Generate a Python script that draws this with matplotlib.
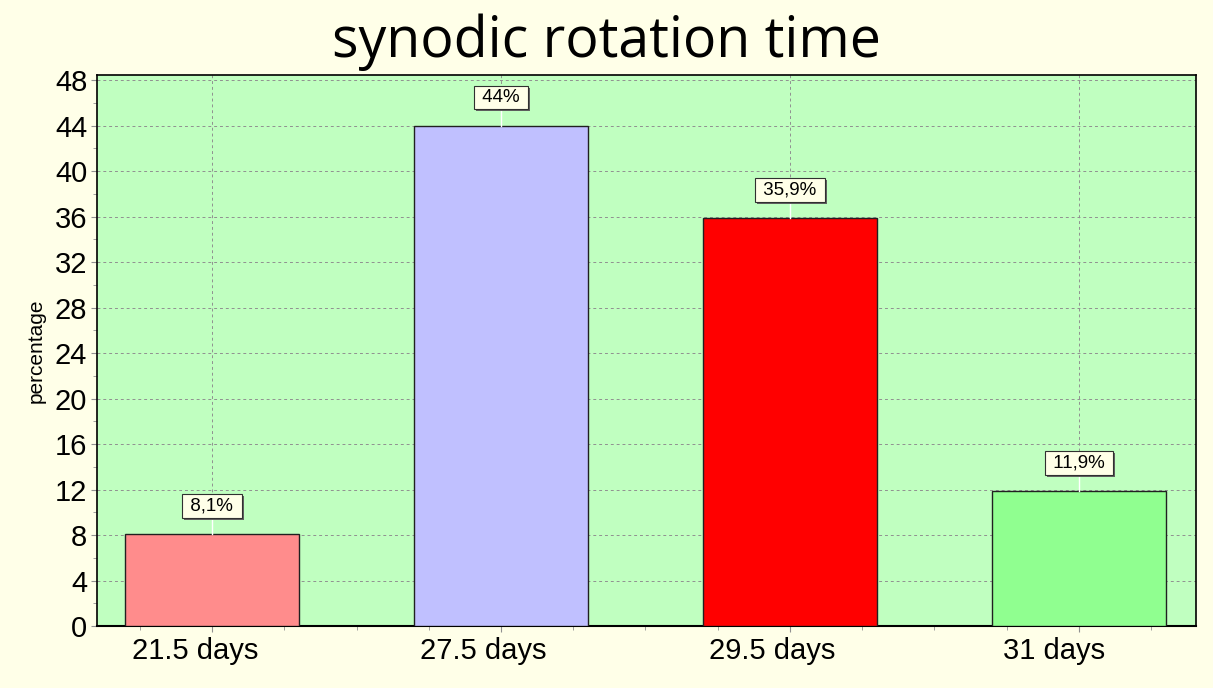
import numpy as np
import matplotlib
matplotlib.use("Agg")
import matplotlib.pyplot as plt
from matplotlib.ticker import MultipleLocator
from matplotlib.transforms import ScaledTranslation
import matplotlib.patheffects as pe

plt.rcParams["font.family"] = ["Liberation Sans", "DejaVu Sans"]

categories = ["21.5 days", "27.5 days", "29.5 days", "31 days"]
values = [8.1, 44.0, 35.9, 11.9]
value_labels = ["8,1%", "44%", "35,9%", "11,9%"]
bar_colors = ["#FF8C8C", "#C0C0FF", "#FF0000", "#90FF90"]
yticks = list(range(0, 49, 4))

fig = plt.figure(figsize=(12.13, 6.88), dpi=100, facecolor="#FFFFE8")
ax = fig.add_axes([97 / 1213, 1 - 626 / 688, (1196 - 97) / 1213, (626 - 75) / 688])
ax.set_facecolor("#C0FFC0")

x = np.arange(len(categories))
ax.bar(x, values, width=0.605, color=bar_colors, edgecolor="#202020", linewidth=1.0, zorder=3)

ax.set_xlim(-0.398, 3.405)
ax.set_ylim(0, 48.44)
ax.set_yticks(yticks)
ax.set_xticks(x)
ax.set_xticklabels(categories, fontsize=21)
ax.tick_params(axis="y", labelsize=21, length=4, direction="out", pad=3)
ax.tick_params(axis="x", length=4, direction="out", pad=4)
ax.xaxis.set_minor_locator(MultipleLocator(0.25))
ax.yaxis.set_minor_locator(MultipleLocator(2))
ax.tick_params(which="minor", length=3, color="#909090")
ax.tick_params(which="major", color="#909090")

# category labels sit a little left of their ticks in the original
for lbl, dx in zip(ax.get_xticklabels(), [-17, -17.5, -17.5, -24.5]):
    lbl.set_transform(lbl.get_transform() + ScaledTranslation(dx / 100, 0, fig.dpi_scale_trans))

ax.grid(True, which="major", color="#909090", linestyle=(0, (3, 3)), linewidth=0.7, zorder=1)
ax.set_axisbelow(True)

for s in ax.spines.values():
    s.set_color("#000000")
    s.set_linewidth(1.2)
ax.spines["bottom"].set_linewidth(1.5)

ax.set_ylabel("percentage", fontsize=15)
ax.yaxis.set_label_coords(-0.047, 0.5)

fig.suptitle("synodic rotation time", fontsize=40, family="Open Sans", y=0.98)

# value labels with a white leader line
for xi, v, lab in zip(x, values, value_labels):
    ax.plot([xi, xi], [v, v + 2.4], color="white", linewidth=1, zorder=4)
    ax.annotate(" " + lab + " ", (xi, v), xytext=(0, 28), textcoords="offset pixels",
                ha="center", va="center", fontsize=13.5, zorder=5,
                bbox=dict(boxstyle="square,pad=0.18", facecolor="#FFFFE8", edgecolor="#303030",
                          linewidth=0.8,
                          path_effects=[pe.withSimplePatchShadow(offset=(1.5, -1.5), shadow_rgbFace="#606060", alpha=1)]))

fig.savefig("out.png", dpi=100, facecolor=fig.get_facecolor())
